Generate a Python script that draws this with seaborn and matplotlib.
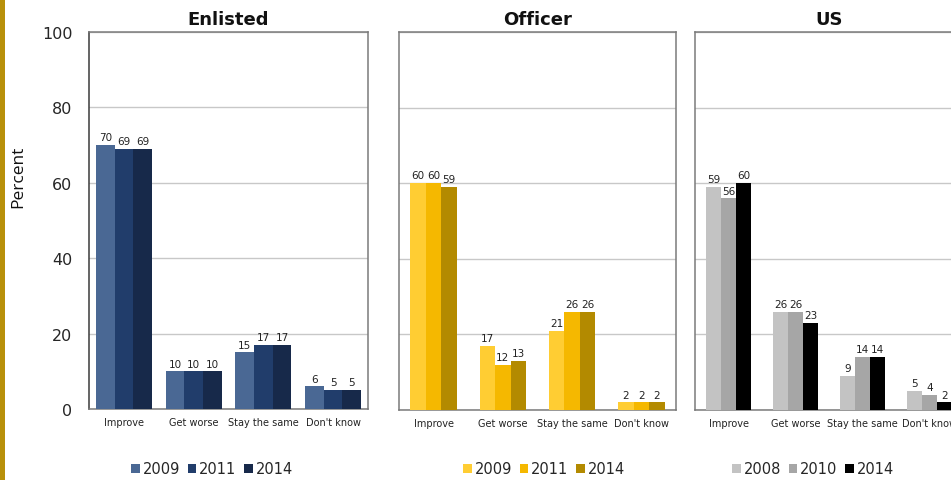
import matplotlib
matplotlib.use("Agg")
import matplotlib.pyplot as plt
from matplotlib.patches import Rectangle, Patch
import numpy as np
import pandas as pd
import seaborn as sns

# Survey responses: "Will things improve, get worse or stay the same?"
responses = ["Improve", "Get worse", "Stay the same", "Don't know"]

enlisted_years = ["2009", "2011", "2014"]
enlisted_2009 = [70, 10, 15, 6]
enlisted_2011 = [69, 10, 17, 5]
enlisted_2014 = [69, 10, 17, 5]

officer_years = ["2009", "2011", "2014"]
officer_2009 = [60, 17, 21, 2]
officer_2011 = [60, 12, 26, 2]
officer_2014 = [59, 13, 26, 2]

us_years = ["2008", "2010", "2014"]
us_2008 = [59, 26, 9, 5]
us_2010 = [56, 26, 14, 4]
us_2014 = [60, 23, 14, 2]

y_ticks = [0, 20, 40, 60, 80, 100]

enlisted_colors = ["#4A6894", "#213D6B", "#17294A"]
officer_colors = ["#FFCD33", "#F5B800", "#B38A00"]
us_colors = ["#C3C3C3", "#A6A6A6", "#000000"]


def long_table(years, series):
    rows = []
    for yr, vals in zip(years, series):
        for resp, v in zip(responses, vals):
            rows.append({"response": resp, "year": yr, "pct": v})
    return pd.DataFrame(rows)


panels = [
    ("Enlisted", enlisted_years, [enlisted_2009, enlisted_2011, enlisted_2014], enlisted_colors),
    ("Officer", officer_years, [officer_2009, officer_2011, officer_2014], officer_colors),
    ("US", us_years, [us_2008, us_2010, us_2014], us_colors),
]

sns.set_theme(style="white")
plt.rcParams["font.family"] = ["DejaVu Sans"]

W, H = 951, 481
fig = plt.figure(figsize=(W / 100, H / 100), dpi=100)
fig.patch.set_facecolor("white")

# gold accent strip along the left edge
fig.patches.append(Rectangle((0, 0), 5 / W, 1, transform=fig.transFigure,
                             facecolor="#B8900A", edgecolor="none", zorder=0))

# axes boxes in pixels: (left, top, right, bottom); the US panel runs past the edge
boxes = [(89, 33, 368, 410), (399, 33, 676, 411), (695, 33, 963, 411)]
group_widths = [0.8, 0.67, 0.67]
legend_centers = [212, 544, 813]

for i, ((title, years, series, colors), box) in enumerate(zip(panels, boxes)):
    l, t, r, b = box
    ax = fig.add_axes([l / W, 1 - b / H, (r - l) / W, (b - t) / H])
    df = long_table(years, series)
    sns.barplot(data=df, x="response", y="pct", hue="year", order=responses,
                hue_order=years, palette=colors, saturation=1,
                width=group_widths[i], linewidth=0, edgecolor="none",
                ax=ax, legend=False, zorder=3)
    for cont in ax.containers:
        ax.bar_label(cont, fmt="%d", padding=2, fontsize=7.5, color="#222222")

    ax.set_ylim(0, 100)
    ax.set_xlim(-0.5, 3.5)
    ax.set_yticks(y_ticks)
    ax.yaxis.grid(True, color="#C8C8C8", linewidth=1, zorder=0)
    ax.xaxis.grid(False)
    ax.set_axisbelow(True)
    ax.set_xlabel("")
    ax.set_ylabel("")
    ax.tick_params(axis="y", length=0, labelsize=11.5, pad=12)
    ax.tick_params(axis="x", which="major", length=0, labelsize=7, pad=6,
                   labelcolor="#222222")
    ax.set_xticks(np.arange(-0.5, 4.0, 1.0), minor=True)
    ax.tick_params(axis="x", which="minor", length=4, width=0.8,
                   color="#808080", direction="out")
    if i > 0:
        ax.set_yticklabels([])
    for side, sp in ax.spines.items():
        sp.set_visible(True)
        sp.set_color("#7A7A7A")
        sp.set_linewidth(1.1)
    if i == 0:
        ax.spines["left"].set_color("#3A3A3A")
    ax.set_title(title, fontsize=13, fontweight="bold", pad=6, color="#111111")

    handles = [Patch(facecolor=c, edgecolor="none", label=y) for y, c in zip(years, colors)]
    fig.legend(handles=handles, loc="center", ncol=3, frameon=False,
               bbox_to_anchor=(legend_centers[i] / W, 1 - 470 / H),
               fontsize=10.5, handlelength=0.6, handleheight=0.6,
               handletextpad=0.2, columnspacing=0.5)

fig.text(18 / W, 1 - 177 / H, "Percent", rotation=90, ha="center", va="center",
         fontsize=12.5, family=["Open Sans", "DejaVu Sans"], color="#111111")

fig.savefig("out.png", dpi=100, facecolor="white")
